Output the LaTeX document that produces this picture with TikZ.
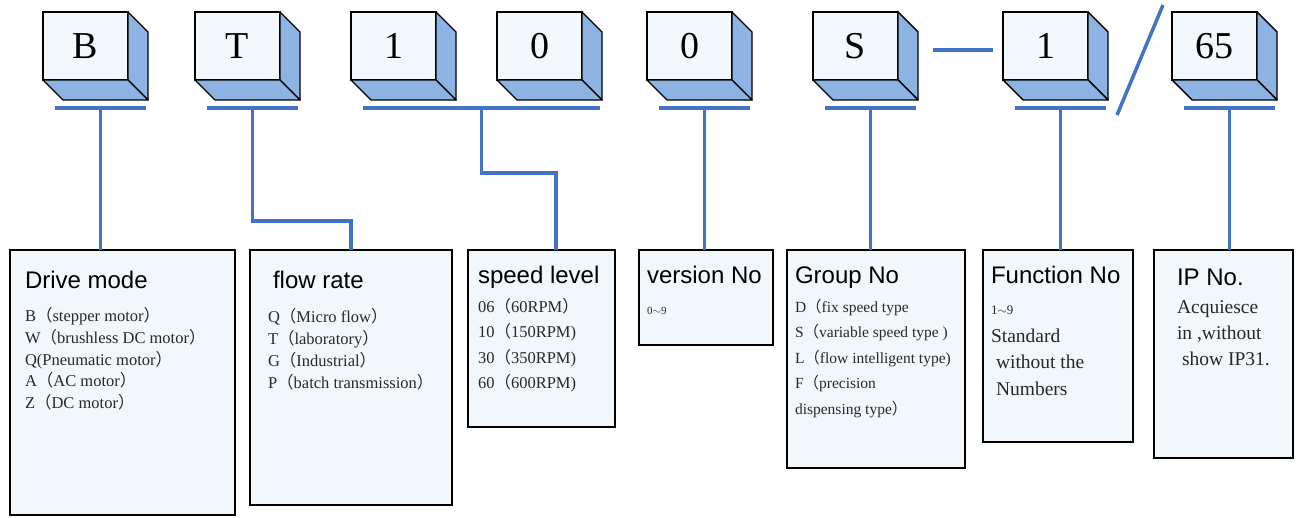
\documentclass[tikz,border=0pt]{standalone}
\usepackage{fontspec}
\usepackage{xcolor}
\usetikzlibrary{calc}
\setmainfont{Liberation Serif}
\newfontfamily\headfont{Liberation Sans}
\newfontfamily\cjkfont{Noto Sans CJK SC}
\definecolor{codeBlue}{RGB}{68,114,196}
\definecolor{cubeSide}{RGB}{141,179,226}
\definecolor{faceFill}{RGB}{243,248,253}
\definecolor{boxFill}{RGB}{242,247,252}
\definecolor{itemGrey}{RGB}{40,40,40}
\newcommand{\FwOpen}{{\cjkfont （}}
\newcommand{\FwClose}{{\cjkfont ）}}
\newcommand{\TitleFont}{\headfont\fontsize{24}{28}\selectfont}
\newcommand{\ItemSize}[2]{\color{itemGrey}\fontsize{#1}{#2}\selectfont}
\newcommand{\CodeCube}[3]{%
  \node[cubeface] (#1) at (#2,12) {#3};
  \draw[cubeedge] (#1.north east) -- ++(20,20) -- ++(0,68) -- (#1.south east) -- cycle;
  \draw[cubeedge] (#1.south west) -- (#1.south east) -- ++(20,20) -- ++(-85,0) -- cycle;
  \coordinate (#1-u) at ($(#1.south west)+(57.5,28)$);
  \draw[codeline] ($(#1-u)+(-45.5,0)$) -- ++(91,0);
}

\begin{document}
\begin{tikzpicture}[x=1pt,y=-1pt,
  cubeface/.style={draw=black,line width=1.4pt,fill=faceFill,anchor=north west,
    minimum width=85pt,minimum height=68pt,inner sep=0pt,outer sep=0pt,
    font=\fontsize{38}{40}\selectfont},
  cubeedge/.style={draw=black,line width=1.4pt,fill=cubeSide,line join=round},
  codeline/.style={draw=codeBlue,line width=3.5pt},
  infobox/.style={draw=black,line width=2pt,fill=boxFill,anchor=north west,
    inner ysep=0pt,outer sep=0pt}]
\useasboundingbox[fill=white] (0,0) rectangle (1308,517);

% code cubes
\CodeCube{cubeB}{43}{B}
\CodeCube{cubeT}{195}{T}
\CodeCube{cubeOne}{351}{1}
\CodeCube{cubeZeroA}{497}{0}
\CodeCube{cubeZeroB}{647}{0}
\CodeCube{cubeS}{813}{S}
\CodeCube{cubeOneB}{1003}{1}
\CodeCube{cubeIP}{1172}{65}
\draw[codeline] (cubeOne-u) -- (cubeZeroA-u);
\coordinate (speedjoin) at ($(cubeOne-u)!0.5!(cubeZeroA-u)$);
\draw[codeline] ($(cubeS.north east)+(35,38)$) -- ($(cubeOneB.north west)+(-10,38)$);
\draw[codeline] ($(cubeIP.north west)+(-9,-7)$) -- ($(cubeOneB.south east)+(29,35)$);

% description boxes
\node[infobox,inner xsep=15pt] (drive) at (10,250) {\begin{minipage}[t][265pt][t]{195pt}
{\TitleFont\rule{0pt}{38pt}Drive mode}\par
\ItemSize{16.5}{21.7}\vspace{12pt}
B\FwOpen stepper motor\FwClose\par
W\FwOpen brushless DC motor\FwClose\par
Q(Pneumatic motor\FwClose\par
A\FwOpen AC motor\FwClose\par
Z\FwOpen DC motor\FwClose\par
\end{minipage}};
\node[infobox,inner xsep=18pt] (flow) at (250,250) {\begin{minipage}[t][255pt][t]{166pt}
{\TitleFont\rule{0pt}{38pt}\hspace*{5pt}flow rate}\par
\ItemSize{16.5}{22}\vspace{12pt}
Q\FwOpen Micro flow\FwClose\par
T\FwOpen laboratory\FwClose\par
G\FwOpen Industrial\FwClose\par
P\FwOpen batch transmission\FwClose\par
\end{minipage}};
\node[infobox,inner xsep=10pt] (speed) at (468,250) {\begin{minipage}[t][177pt][t]{127pt}
{\TitleFont\rule{0pt}{33pt}speed level}\par
\ItemSize{16.5}{25.5}\vspace{3.5pt}
06\FwOpen 60RPM\FwClose\par
10\FwOpen 150RPM)\par
30\FwOpen 350RPM)\par
60\FwOpen 600RPM)\par
\end{minipage}};
\node[infobox,inner xsep=8pt] (version) at (639,250) {\begin{minipage}[t][95pt][t]{118pt}
{\TitleFont\rule{0pt}{33pt}version No}\par
\ItemSize{11}{13}\vspace{18pt}
0$\sim$9\par
\end{minipage}};
\node[infobox,inner xsep=8pt] (group) at (787,250) {\begin{minipage}[t][218pt][t]{162pt}
{\TitleFont\rule{0pt}{33pt}Group No}\par
\ItemSize{15.5}{25.5}\vspace{3.5pt}
D\FwOpen fix speed type\par
\mbox{S\FwOpen variable speed type )}\par
\mbox{L\FwOpen flow intelligent type)}\par
F\FwOpen precision\par
dispensing type\FwClose\par
\end{minipage}};
\node[infobox,inner xsep=8pt] (func) at (983,250) {\begin{minipage}[t][192pt][t]{134pt}
{\TitleFont\rule{0pt}{33pt}Function No}\par
\ItemSize{13}{15}\vspace{16pt}
1$\sim$9\par
\ItemSize{19.5}{26.5}\vspace{1.5pt}
Standard\par
\hspace*{5pt}without the\par
\hspace*{5pt}Numbers\par
\end{minipage}};
\node[infobox,inner xsep=23pt] (ipno) at (1154,250) {\begin{minipage}[t][208pt][t]{93pt}
{\TitleFont\rule{0pt}{35pt}IP No.}\par
\ItemSize{19.5}{26}\vspace{2pt}
Acquiesce\par
in ,without\par
\hspace*{5pt}show IP31.\par
\end{minipage}};

% connectors
\draw[codeline] (cubeB-u) -- (cubeB-u |- drive.north);
\draw[codeline] (cubeT-u) |- ($(flow.north)+(0,-29)$) -- (flow.north);
\draw[codeline] (speedjoin) |- ($(speed.north west)+(88,-77)$) -- ($(speed.north west)+(88,0)$);
\draw[codeline] (cubeZeroB-u) -- (cubeZeroB-u |- version.north);
\draw[codeline] (cubeS-u) -- (cubeS-u |- group.north);
\draw[codeline] (cubeOneB-u) -- (cubeOneB-u |- func.north);
\draw[codeline] (cubeIP-u) -- (cubeIP-u |- ipno.north);
\end{tikzpicture}
\end{document}
